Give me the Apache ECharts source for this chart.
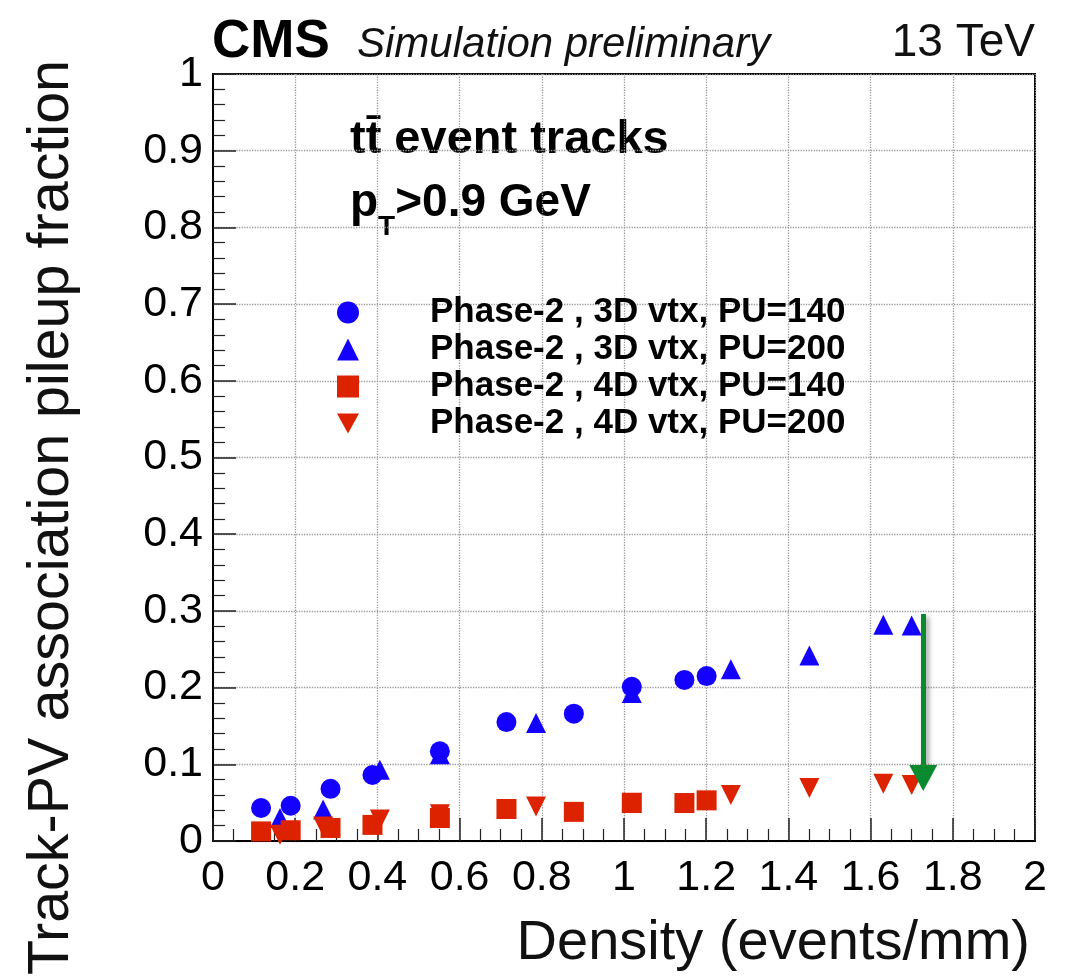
<!DOCTYPE html>
<html>
<head>
<meta charset="utf-8">
<script src="https://cdn.jsdelivr.net/npm/echarts@6/dist/echarts.min.js"></script>
<style>
html,body{margin:0;padding:0;background:#fff;}
#chart{width:1075px;height:978px;}
</style>
</head>
<body>
<div id="chart"></div>
<script>
// ---- data ----
const seriesNames = [
  'Phase-2 , 3D vtx, PU=140',
  'Phase-2 , 3D vtx, PU=200',
  'Phase-2 , 4D vtx, PU=140',
  'Phase-2 , 4D vtx, PU=200'
];
// PU=140 density points
const densityPU140 = [0.117, 0.189, 0.286, 0.388, 0.552, 0.714, 0.878, 1.019, 1.147, 1.201];
// PU=200 density points
const densityPU200 = [0.163, 0.268, 0.406, 0.552, 0.786, 1.019, 1.26, 1.451, 1.631, 1.70];
const frac3D140 = [0.043, 0.046, 0.068, 0.086, 0.117, 0.155, 0.166, 0.201, 0.210, 0.215];
const frac3D200 = [0.030, 0.041, 0.093, 0.113, 0.154, 0.193, 0.224, 0.242, 0.282, 0.281];
const frac4D140 = [0.0125, 0.014, 0.017, 0.021, 0.030, 0.0417, 0.038, 0.0495, 0.0495, 0.053];
const frac4D200 = [0.008, 0.019, 0.028, 0.035, 0.045, 0.050, 0.060, 0.069, 0.0747, 0.073];
// green arrow annotation (data coordinates)
const arrowX = 1.728;
const arrowY = [0.296, 0.082];

const pair = (xs, ys) => xs.map((x, i) => [x, ys[i]]);
const FONT = 'Liberation Sans';
const BLUE = '#1400ff';
const RED = '#dd2200';
const downTri = 'path://M0,0 L10,0 L5,9 Z';

const chart = echarts.init(document.getElementById('chart'), null, {renderer: 'canvas'});

const axisCommon = {
  type: 'value',
  axisLine: {show: true, lineStyle: {color: '#000', width: 2}},
  axisTick: {show: true, inside: true, length: 23, lineStyle: {color: '#222', width: 1.5}},
  minorTick: {show: true, length: 12, lineStyle: {color: '#222', width: 1.2}},
  splitLine: {show: true, lineStyle: {type: 'dotted', color: '#9a9a9a', width: 1.3}},
  axisLabel: {fontSize: 43, fontFamily: FONT, color: '#000'}
};

const option = {
  animation: false,
  backgroundColor: '#fff',
  grid: {left: 213, top: 74, right: 40, bottom: 137, show: true, borderColor: '#000', borderWidth: 2},
  xAxis: Object.assign({}, axisCommon, {
    min: 0, max: 2, interval: 0.2,
    minorTick: Object.assign({}, axisCommon.minorTick, {splitNumber: 4}),
    axisLabel: Object.assign({}, axisCommon.axisLabel, {margin: 16})
  }),
  yAxis: Object.assign({}, axisCommon, {
    min: 0, max: 1, interval: 0.1,
    minorTick: Object.assign({}, axisCommon.minorTick, {splitNumber: 5}),
    axisLabel: Object.assign({}, axisCommon.axisLabel, {margin: 10})
  }),
  legend: {
    data: seriesNames,
    orient: 'vertical',
    left: 332, top: 290,
    itemWidth: 22, itemHeight: 22, itemGap: 2,
    textStyle: {fontSize: 35, fontWeight: 'bold', fontFamily: FONT, color: '#000', lineHeight: 35, padding: [0, 0, 0, 66]}
  },
  series: [
    {name: seriesNames[0], type: 'scatter', symbol: 'circle', symbolSize: 20, z: 4,
     itemStyle: {color: BLUE, opacity: 1}, data: pair(densityPU140, frac3D140)},
    {name: seriesNames[1], type: 'scatter', symbol: 'triangle', symbolSize: 20, z: 3,
     itemStyle: {color: BLUE, opacity: 1}, data: pair(densityPU200, frac3D200)},
    {name: seriesNames[2], type: 'scatter', symbol: 'rect', symbolSize: 20, z: 4,
     itemStyle: {color: RED, opacity: 1}, data: pair(densityPU140, frac4D140)},
    {name: seriesNames[3], type: 'scatter', symbol: downTri, symbolSize: 20, z: 3,
     itemStyle: {color: RED, opacity: 1}, data: pair(densityPU200, frac4D200)},
    {name: 'arrow', type: 'line', data: [], z: 6,
     markLine: {
       silent: true, animation: false,
       symbol: ['none', 'triangle'], symbolSize: [28, 26],
       label: {show: false},
       lineStyle: {color: '#0a8a2e', width: 5, type: 'solid',
                   shadowBlur: 5, shadowColor: 'rgba(0,0,0,0.35)', shadowOffsetX: 3, shadowOffsetY: 3},
       itemStyle: {color: '#0a8a2e'},
       emphasis: {disabled: true},
       data: [[{coord: [arrowX, arrowY[0]]}, {coord: [arrowX, arrowY[1]]}]]
     }}
  ],
  graphic: [
    {type: 'text', left: 212, top: 16, style: {text: 'CMS', font: 'bold 53px "Liberation Sans"', fill: '#000'}},
    {type: 'text', left: 357, top: 24, style: {text: 'Simulation preliminary', font: 'italic 42px "Liberation Sans"', fill: '#111'}},
    {type: 'text', right: 40, top: 20, style: {text: '13 TeV', font: '46px "Liberation Sans"', fill: '#111'}},
    {type: 'text', left: 350, top: 117, style: {text: 'tt\u0304 event tracks', font: 'bold 47px "Liberation Sans"', fill: '#000'}},
    {type: 'text', left: 350, top: 180, style: {
      text: '{a|p}{s|T}{a|>0.9 GeV}',
      rich: {
        a: {fontSize: 46, fontWeight: 'bold', fontFamily: FONT, fill: '#000', verticalAlign: 'top'},
        s: {fontSize: 28, fontWeight: 'bold', fontFamily: FONT, fill: '#000', verticalAlign: 'top', padding: [33, 0, 0, 0]}
      }
    }},
    {type: 'text', right: 45, top: 916, style: {text: 'Density (events/mm)', font: '56px "Liberation Sans"', fill: '#111'}},
    {type: 'text', x: 52, y: 975, rotation: Math.PI / 2,
     style: {text: 'Track-PV association pileup fraction', font: '57.5px "Liberation Sans"', fill: '#111', align: 'left', verticalAlign: 'middle'}}
  ]
};
chart.setOption(option);
</script>
</body>
</html>
